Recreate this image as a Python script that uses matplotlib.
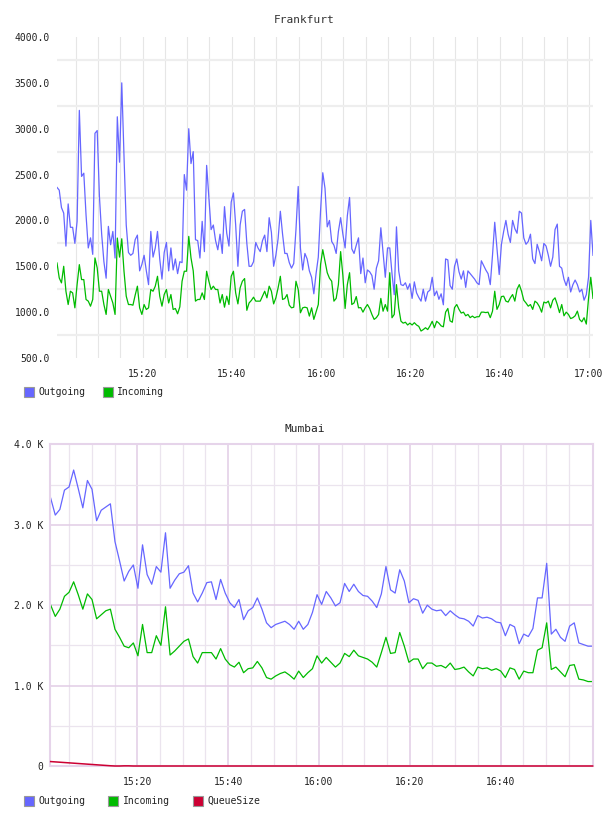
import matplotlib
matplotlib.use("Agg")
import matplotlib.pyplot as plt
import matplotlib.ticker as mticker
import matplotlib.dates as mdates
from matplotlib.patches import Rectangle
import pandas as pd

plt.rcParams["font.family"] = ["DejaVu Sans Mono"]

# Frankfurt: samples every ~30 s
FRA_START = "2024-01-01 15:00:51"
FRA_END = "2024-01-01 17:00:54"
FRA_OUTGOING = [
    2360, 2330, 2140, 2080, 1720, 2180, 1925, 1925, 1750, 1990,
    3200, 2480, 2515, 2060, 1700, 1810, 1630, 2950, 2980, 2260,
    1850, 1550, 1370, 1935, 1735, 1880, 1590, 3130, 2635, 3500,
    2700, 1950, 1650, 1620, 1640, 1790, 1840, 1450, 1520, 1620,
    1450, 1300, 1880, 1600, 1700, 1880, 1580, 1360, 1650, 1760,
    1450, 1700, 1460, 1580, 1420, 1550, 1540, 2500, 2330, 3000,
    2620, 2750,
    1790, 1780, 1590, 1990, 1660, 2600, 2250, 1900, 1950, 1780,
    1680, 1850, 1640, 2150, 1860, 1720, 2200, 2300, 1950, 1500,
    1950, 2100, 2120, 1750, 1500, 1500, 1550, 1760, 1700, 1660,
    1780, 1840, 1660, 2030, 1870, 1500, 1620, 1800, 2100, 1850,
    1640, 1640, 1540, 1480, 1530, 1900, 2370, 1700, 1460, 1640,
    1580, 1450, 1380, 1200, 1420, 1600, 2100, 2520,
    2350, 1930, 2000, 1770, 1730, 1640, 1880, 2030, 1850, 1700,
    2050, 2250, 1690, 1640, 1730, 1810, 1420, 1590, 1320, 1460,
    1440, 1400, 1250, 1480, 1560, 1920, 1650, 1380, 1700, 1700,
    1420, 1190, 1930, 1450, 1300, 1290, 1320, 1250, 1310, 1150,
    1330, 1210, 1160, 1120, 1250, 1120, 1220, 1240, 1380, 1180,
    1230, 1140, 1200, 1080, 1580, 1570, 1290, 1250, 1500, 1580,
    1440, 1360,
    1450, 1270, 1450, 1420, 1390, 1360, 1320, 1300, 1560, 1510,
    1460, 1420, 1300, 1620, 1980, 1700, 1410, 1740, 1880, 2000,
    1850, 1760, 2000, 1910, 1860, 2100, 2080, 1810, 1740, 1770,
    1850, 1580, 1530, 1740, 1660, 1560, 1750, 1720, 1620, 1500,
    1600, 1900, 1960, 1500, 1480, 1360, 1290, 1380, 1220, 1300,
    1350, 1300, 1220, 1250, 1130, 1190, 1380, 2000, 1620,
]
FRA_INCOMING = [
    1536, 1373, 1319, 1500, 1228, 1083, 1228, 1210, 1047, 1301,
    1518, 1355, 1355, 1138, 1120, 1065, 1138, 1591, 1482, 1228,
    1228, 1083, 975, 1247, 1174, 1100, 975, 1808, 1600, 1800,
    1446, 1174, 1083, 1083, 1076, 1185, 1283, 1047, 975, 1083,
    1029, 1047, 1247, 1228, 1283, 1391, 1174, 1065, 1192, 1247,
    1100, 1192, 1029, 1040, 982, 1058, 1337, 1446, 1446, 1826,
    1591, 1450,
    1120, 1138, 1138, 1210, 1138, 1446, 1337, 1247, 1283, 1247,
    1247, 1100, 1192, 1054, 1174, 1083, 1391, 1446, 1210, 1090,
    1265, 1337, 1366, 1020, 1100, 1127, 1163, 1120, 1120, 1120,
    1174, 1228, 1156, 1283, 1228, 1090, 1156, 1265, 1391, 1138,
    1149, 1192, 1076, 1047, 1054, 1337, 1247, 993, 1047, 1054,
    1047, 957, 1047, 921, 1004, 1083, 1518, 1681,
    1554, 1430, 1370, 1337, 1120, 1150, 1300, 1660, 1400, 1040,
    1300, 1430, 1083, 1100, 1170, 1047, 1050, 1000, 1047, 1083,
    1040, 975, 921, 940, 975, 1150, 1010, 1083, 1011, 1430,
    939, 975, 1300, 1047, 902, 880, 890, 860, 880, 860,
    885, 860, 845, 794, 810, 830, 810, 850, 900, 830,
    900, 880, 850, 840, 1000, 1040, 905, 890, 1050, 1083,
    1030, 990,
    1000, 960, 975, 940, 957, 939, 950, 950, 1000, 1000,
    995, 1000, 940, 1010, 1228, 1030, 1083, 1170, 1174, 1120,
    1110, 1156, 1192, 1120, 1250, 1300, 1228, 1130, 1100, 1065,
    1083, 1030, 1120, 1100, 1060, 1000, 1110, 1100, 1120, 1047,
    1130, 1156, 1083, 995, 1083, 960, 1000, 975, 930, 940,
    960, 1011, 920, 895, 939, 870, 1150, 1380, 1150,
]

# Mumbai: samples every ~1 min
MUM_START = "2024-01-01 15:00:55"
MUM_END = "2024-01-01 17:00:17"
MUM_OUTGOING = [
    3330, 3120, 3190, 3430, 3470, 3680, 3450, 3210, 3550, 3440,
    3050, 3180, 3220, 3260, 2790, 2550, 2300, 2420, 2500, 2210,
    2750, 2380, 2260, 2480, 2410, 2900, 2210, 2310, 2390, 2410,
    2490, 2150, 2040, 2150, 2280, 2290, 2070, 2320, 2150, 2030,
    1970, 2070, 1820, 1930, 1970, 2090, 1950, 1780, 1720, 1760,
    1780, 1800, 1760, 1700,
    1800, 1700, 1760, 1910, 2130, 2010, 2170, 2090, 1990, 2030,
    2270, 2170, 2260, 2170, 2120, 2110, 2050, 1970, 2140, 2480,
    2190, 2150, 2440, 2300, 2030, 2080, 2060, 1900, 2000, 1950,
    1930, 1940, 1870, 1930, 1880, 1840, 1830, 1800, 1740, 1870,
    1840, 1850, 1830, 1790, 1780, 1620, 1760, 1730, 1520, 1640,
    1610, 1710, 2090, 2090, 2520, 1640, 1700, 1600, 1550, 1740,
    1780, 1530, 1510, 1490, 1490,
]
MUM_INCOMING = [
    2000, 1860, 1950, 2110, 2160, 2290, 2130, 1950, 2140, 2070,
    1830, 1880, 1930, 1950, 1700, 1600, 1490, 1470, 1530, 1370,
    1760, 1410, 1410, 1620, 1500, 1980, 1380, 1430, 1490, 1550,
    1580, 1360, 1280, 1410, 1410, 1410, 1330, 1460, 1330, 1260,
    1230, 1290, 1160, 1210, 1220, 1300, 1220, 1100, 1080, 1120,
    1150, 1170, 1130, 1080,
    1180, 1100, 1160, 1210, 1370, 1280, 1350, 1290, 1230, 1280,
    1400, 1360, 1440, 1370, 1350, 1330, 1290, 1230, 1410, 1600,
    1400, 1410, 1660, 1490, 1290, 1330, 1330, 1210, 1280, 1280,
    1240, 1250, 1220, 1280, 1200, 1210, 1230, 1170, 1120, 1230,
    1210, 1220, 1190, 1210, 1180, 1100, 1220, 1200, 1080, 1180,
    1160, 1160, 1440, 1470, 1780, 1200, 1230, 1170, 1110, 1250,
    1260, 1080, 1070, 1050, 1050,
]
MUM_QUEUE = [
    55, 51, 47, 43, 39, 35, 31, 27, 23, 19,
    15, 11, 7, 3, 0, 0, 2, 2, 0, 0,
    0, 0, 0, 0, 0, 0, 0, 0, 0, 0,
    0, 0, 0, 0, 0, 0, 0, 0, 0, 0,
    0, 0, 0, 0, 0, 0, 0, 0, 0, 0,
    0, 0, 0, 0, 0, 0, 0, 0, 0, 0,
    0, 0, 0, 0, 0, 0, 0, 0, 0, 0,
    0, 0, 0, 0, 0, 0, 0, 0, 0, 0,
    0, 0, 0, 0, 0, 0, 0, 0, 0, 0,
    0, 0, 0, 0, 0, 0, 0, 0, 0, 0,
    0, 0, 0, 0, 0, 0, 0, 0, 0, 0,
    0, 0, 0, 0, 0, 0, 0, 0, 0,
]

BLUE, GREEN, RED = "#6666ff", "#00bb00", "#cc0033"
TXT = "#222222"
W, H = 608, 816


def px_rect(left, top, right, bottom):
    return [left / W, 1 - bottom / H, (right - left) / W, (bottom - top) / H]


def legend_item(fig, x, y, color, label):
    """10px colour square with grey border + label, coords in pixels"""
    fig.add_artist(Rectangle((x / W, 1 - (y + 5) / H), 10 / W, 10 / H,
        transform=fig.transFigure, facecolor=color, edgecolor="#999999", lw=0.8))
    fig.text((x + 14.5) / W, 1 - y / H, label, fontsize=7, color=TXT,
        ha="left", va="center")


fig = plt.figure(figsize=(6.08, 8.16), dpi=100)

# Frankfurt
ax1 = fig.add_axes(px_rect(57, 37, 593, 358))
t1 = pd.date_range(FRA_START, FRA_END, periods=len(FRA_OUTGOING))
ax1.plot(t1, FRA_OUTGOING, color=BLUE, lw=0.9)
ax1.plot(t1, FRA_INCOMING, color=GREEN, lw=0.9)
ax1.set_xlim(t1[0], t1[-1])
ax1.set_ylim(500, 4000)
ax1.set_yticks(range(500, 4001, 500))
ax1.set_yticks(range(750, 3751, 500), minor=True)
ax1.yaxis.set_major_formatter(mticker.FormatStrFormatter("%.1f"))
ax1.xaxis.set_major_locator(mdates.MinuteLocator(byminute=[0, 20, 40]))
ax1.xaxis.set_minor_locator(mdates.MinuteLocator(byminute=range(0, 60, 5)))
ax1.xaxis.set_major_formatter(mdates.DateFormatter("%H:%M"))
ax1.yaxis.grid(True, which="minor", color="#eeeeee", lw=1.6)
ax1.xaxis.grid(True, which="both", color="#e6e6e6", lw=0.8)
for s in ax1.spines.values():
    s.set_visible(False)
ax1.set_axisbelow(True)
ax1.tick_params(which="both", length=0, labelsize=7, labelcolor=TXT)
ax1.tick_params(axis="y", pad=5)
ax1.tick_params(axis="x", pad=8)
fig.text(304.5 / W, 1 - 20 / H, "Frankfurt", fontsize=8, color="#333333",
    ha="center", va="center")
legend_item(fig, 24, 392, BLUE, "Outgoing")
legend_item(fig, 102.5, 392, GREEN, "Incoming")

# Mumbai
ax2 = fig.add_axes(px_rect(50, 444.3, 593.3, 766))
t2 = pd.date_range(MUM_START, MUM_END, periods=len(MUM_OUTGOING))
ax2.plot(t2, MUM_OUTGOING, color=BLUE, lw=0.9)
ax2.plot(t2, MUM_INCOMING, color=GREEN, lw=0.9)
# queue sits on the zero line, keep it above the bottom spine
ax2.plot(t2, MUM_QUEUE, color=RED, lw=1.1, clip_on=False, zorder=4)
ax2.set_xlim(pd.Timestamp("2024-01-01 15:00:46"), pd.Timestamp("2024-01-01 17:00:26"))
ax2.set_ylim(0, 4000)
ax2.set_yticks(range(0, 4001, 1000))
ax2.set_yticks(range(500, 3501, 1000), minor=True)
ax2.yaxis.set_major_formatter(mticker.FuncFormatter(
    lambda v, _: "0" if v == 0 else f"{v / 1000:.1f} K"))
ax2.set_xticks(pd.date_range("2024-01-01 15:20", "2024-01-01 16:40", freq="20min"))
ax2.set_xticks(pd.date_range("2024-01-01 15:05", "2024-01-01 16:55", freq="5min"), minor=True)
ax2.xaxis.set_major_formatter(mdates.DateFormatter("%H:%M"))
ax2.grid(True, which="major", color="#e2cde6", lw=1.1)
ax2.grid(True, which="minor", color="#ebe4ee", lw=0.9)
for s in ax2.spines.values():
    s.set_color("#e6d4ea")
    s.set_linewidth(1.5)
ax2.set_axisbelow(True)
ax2.tick_params(which="both", length=0, labelsize=7, labelcolor=TXT)
ax2.tick_params(axis="y", pad=5)
ax2.tick_params(axis="x", pad=8)
fig.text(304.5 / W, 1 - 428.5 / H, "Mumbai", fontsize=8, color="#222222",
    ha="center", va="center")
legend_item(fig, 24.3, 800.7, BLUE, "Outgoing")
legend_item(fig, 108, 800.7, GREEN, "Incoming")
legend_item(fig, 192.7, 800.7, RED, "QueueSize")

fig.savefig("out.png", dpi=100)
